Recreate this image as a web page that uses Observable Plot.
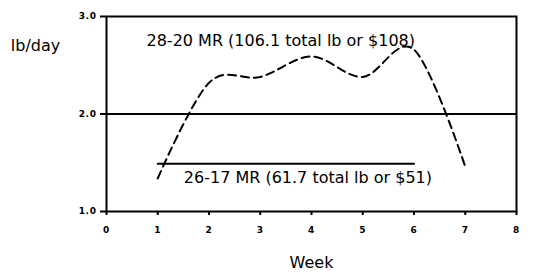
<!DOCTYPE html>
<html><head><meta charset="utf-8">
<script src="https://cdn.jsdelivr.net/npm/d3@7"></script>
<script src="https://cdn.jsdelivr.net/npm/@observablehq/plot@0.6"></script>
<style>
body{margin:0;background:#fff}
g[aria-label="x-axis tick label"] text, g[aria-label="y-axis tick label"] text {letter-spacing:0.6px}
</style>
</head><body><div id="chart"></div>
<script>
const weeks = [1, 2, 3, 4, 5, 6, 7];
const mr2820 = [1.34, 2.32, 2.38, 2.59, 2.38, 2.66, 1.46];
const mr2617Weeks = [1, 6];
const mr2617 = [1.49, 1.49];
const labels = ["28-20 MR (106.1 total lb or $108)", "26-17 MR (61.7 total lb or $51)"];
const labelX = [3.4, 3.93];
const labelY = [2.75, 1.34];
const xTicks = [0, 1, 2, 3, 4, 5, 6, 7, 8];
const yTicks = [1, 2, 3];
const refLine = [2];

const dashed = weeks.map((w, i) => ({x: w, y: mr2820[i]}));
const solid = mr2617Weeks.map((w, i) => ({x: w, y: mr2617[i]}));
const notes = labels.map((t, i) => ({t, x: labelX[i], y: labelY[i]}));

const font = "Tahoma, 'DejaVu Sans', sans-serif";
const chart = Plot.plot({
  width: 543, height: 278,
  marginLeft: 106, marginRight: 27, marginTop: 16, marginBottom: 67,
  style: {fontFamily: font, background: "#fff", color: "#000"},
  x: {domain: [0, 8]},
  y: {domain: [1, 3]},
  marks: [
    Plot.ruleY(refLine, {stroke: "#000", strokeWidth: 2}),
    Plot.line(solid, {x: "x", y: "y", stroke: "#000", strokeWidth: 2}),
    Plot.line(dashed, {x: "x", y: "y", stroke: "#000", strokeWidth: 2, strokeDasharray: "8,5", curve: "cardinal", tension: 0}),
    Plot.text(notes, {x: "x", y: "y", text: "t", fontSize: 16, fill: "#000"}),
    Plot.frame({stroke: "#000", strokeWidth: 2}),
    Plot.axisX({ticks: xTicks, tickSize: 4, tickPadding: 11, fontSize: 9, fontWeight: "bold", label: null, tickFormat: d3.format("d"), strokeWidth: 2}),
    Plot.axisY({ticks: yTicks, tickSize: 6, tickPadding: 4, fontSize: 9, fontWeight: "bold", label: null, tickFormat: d3.format(".1f"), strokeWidth: 2}),
    Plot.text(["lb/day"], {frameAnchor: "top-left", dx: -71, dy: 23, textAnchor: "middle", fontSize: 16, fill: "#000"}),
    Plot.text(["Week"], {frameAnchor: "bottom", dy: 56, fontSize: 16, fill: "#000"})
  ]
});
document.getElementById("chart").appendChild(chart);
</script>
</body></html>
